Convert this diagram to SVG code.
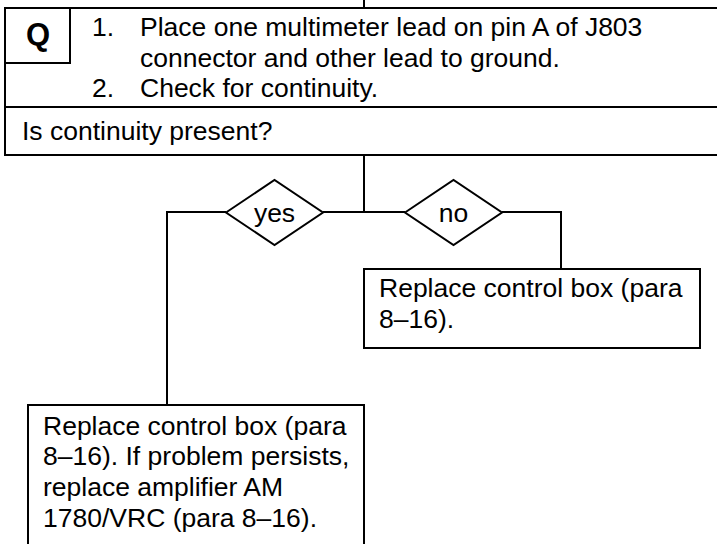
<svg xmlns="http://www.w3.org/2000/svg" width="717" height="544" viewBox="0 0 717 544">
<style>
.ln{fill:none;stroke:#000;stroke-width:2}
.bx{fill:#fff;stroke:#000;stroke-width:2}
text{font-family:"Liberation Sans",Arial,sans-serif;font-size:26.5px;fill:#000}
.q{font-weight:bold;font-size:31px}
</style>
<g id="connectors">
<line class="ln" x1="364" y1="0" x2="364" y2="8"/>
<polyline class="ln" points="364,155 364,212"/>
<polyline class="ln" points="323,212 405,212"/>
<polyline class="ln" points="226,212 167,212 167,405"/>
<polyline class="ln" points="502,212 561,212 561,269"/>
</g>
<g id="question">
<rect class="bx" x="5" y="8" width="730" height="147"/>
<line class="ln" x1="5" y1="107" x2="735" y2="107"/>
<rect class="bx" x="5" y="8" width="65" height="55"/>
<text class="q" x="38" y="45" text-anchor="middle">Q</text>
<text x="92" y="36">1.</text>
<text x="140" y="36">Place one multimeter lead on pin A of J803</text>
<text x="140" y="67">connector and other lead to ground.</text>
<text x="92" y="97">2.</text>
<text x="140" y="97">Check for continuity.</text>
<text x="22" y="140">Is continuity present?</text>
</g>
<g id="yes">
<polygon class="bx" points="226,212.5 274.5,180 323,212.5 274.5,245"/>
<text x="274.5" y="222" text-anchor="middle">yes</text>
</g>
<g id="no">
<polygon class="bx" points="405,212.5 453.5,180 502,212.5 453.5,245"/>
<text x="453.5" y="222" text-anchor="middle">no</text>
</g>
<g id="replace-no">
<rect class="bx" x="364" y="269" width="336" height="79"/>
<text x="379" y="297">Replace control box (para</text>
<text x="379" y="328">8–16).</text>
</g>
<g id="replace-yes">
<rect class="bx" x="28" y="405" width="336" height="160"/>
<text x="43" y="435">Replace control box (para</text>
<text x="43" y="465">8–16). If problem persists,</text>
<text x="43" y="496">replace amplifier AM</text>
<text x="43" y="527">1780/VRC (para 8–16).</text>
</g>
</svg>
